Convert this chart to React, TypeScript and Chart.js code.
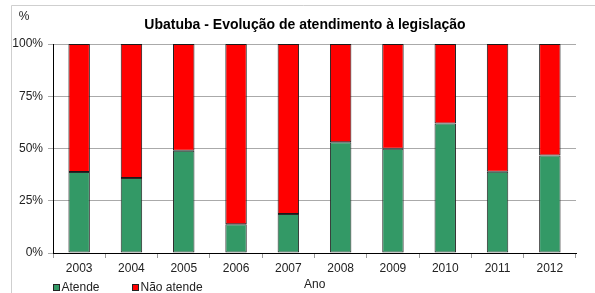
import React, { useEffect, useRef } from "react";
import { Chart, registerables } from "chart.js";

Chart.register(...registerables);

const categories = ["2003", "2004", "2005", "2006", "2007", "2008", "2009", "2010", "2011", "2012"];
const atende = [38.8, 35.9, 48.9, 13.8, 18.7, 53.0, 49.9, 62.0, 38.9, 46.6];
const naoAtende = atende.map((v) => Math.round((100 - v) * 10) / 10);
const yTicks = [0, 25, 50, 75, 100];
const titleText = "Ubatuba - Evolução de atendimento à legislação";
const seriesNames = ["Atende", "Não atende"];
const seriesColors = ["#339966", "#FF0000"];

const FONT = "'Liberation Sans', Arial, sans-serif";

const decorPlugin = {
  id: "decor",
  beforeDraw(chart: any) {
    const ctx = chart.ctx;
    ctx.save();
    ctx.strokeStyle = "#cfcfcf";
    ctx.lineWidth = 1;
    ctx.beginPath();
    ctx.moveTo(11.5, 293);
    ctx.lineTo(11.5, 5.5);
    ctx.lineTo(595, 5.5);
    ctx.stroke();
    ctx.restore();
  },
  afterDraw(chart: any) {
    const ctx = chart.ctx;
    ctx.save();
    ctx.fillStyle = "#000";
    ctx.textBaseline = "middle";
    ctx.textAlign = "center";
    ctx.font = `bold 14px ${FONT}`;
    ctx.fillText(titleText, 305, 25.5);
    ctx.font = `12px ${FONT}`;
    ctx.fillStyle = "#222";
    ctx.fillText("%", 24, 17);
    ctx.textAlign = "left";
    ctx.fillText("Ano", 304, 285);
    // legend
    const items = chart.data.datasets.map((d: any, i: number) => ({ label: d.label, color: d.backgroundColor }));
    const xs = [53.5, 132.5];
    items.forEach((it: any, i: number) => {
      const x = xs[i];
      ctx.fillStyle = it.color;
      ctx.fillRect(x, 284.5, 6, 6);
      ctx.strokeStyle = "#222";
      ctx.lineWidth = 1;
      ctx.strokeRect(x, 284.5, 6, 6);
      ctx.fillStyle = "#222";
      ctx.fillText(it.label, x + 8, 287.5);
    });
    ctx.restore();
  },
};

export default function App() {
  const ref = useRef<HTMLCanvasElement>(null);
  useEffect(() => {
    if (!ref.current) return;
    const chart = new Chart(ref.current, {
      type: "bar",
      data: {
        labels: categories,
        datasets: [
          {
            label: seriesNames[0],
            data: atende,
            backgroundColor: seriesColors[0],
            borderColor: "#2a2a2a",
            borderWidth: 1,
            borderSkipped: false,
            barPercentage: 0.41,
            categoryPercentage: 1,
          },
          {
            label: seriesNames[1],
            data: naoAtende,
            backgroundColor: seriesColors[1],
            borderColor: "#1a1a1a",
            borderWidth: 1,
            borderSkipped: false,
            barPercentage: 0.41,
            categoryPercentage: 1,
          },
        ],
      },
      options: {
        responsive: false,
        animation: false,
        layout: { padding: { left: 0, right: 19, top: 44, bottom: 0 } },
        plugins: {
          legend: { display: false },
          title: { display: false },
          tooltip: { enabled: false },
        },
        scales: {
          x: {
            stacked: true,
            afterFit: (s: any) => {
              s.height = 40;
            },
            grid: {
              drawOnChartArea: false,
              drawTicks: true,
              tickLength: 5,
              color: "#999",
              offset: true,
            },
            border: { display: true, color: "#000", width: 1 },
            ticks: {
              color: "#222",
              padding: 3,
              font: { family: FONT, size: 12 },
              maxRotation: 0,
            },
          },
          y: {
            stacked: true,
            min: 0,
            max: 100,
            afterFit: (s: any) => {
              s.width = 53;
            },
            afterBuildTicks: (s: any) => {
              s.ticks = yTicks.map((v) => ({ value: v }));
            },
            grid: {
              color: "#aaa",
              drawTicks: true,
              tickLength: 5,
            },
            border: { display: true, color: "#000", width: 1 },
            ticks: {
              color: "#222",
              padding: 5,
              font: { family: FONT, size: 12 },
              callback: (v: any) => `${v}%`,
            },
          },
        },
      },
      plugins: [decorPlugin],
    });
    return () => chart.destroy();
  }, []);
  return (
    <div style={{ position: "absolute", left: 0, top: 0, width: 595, height: 293 }}>
      <canvas ref={ref} width={595} height={293} style={{ display: "block" }} />
    </div>
  );
}
